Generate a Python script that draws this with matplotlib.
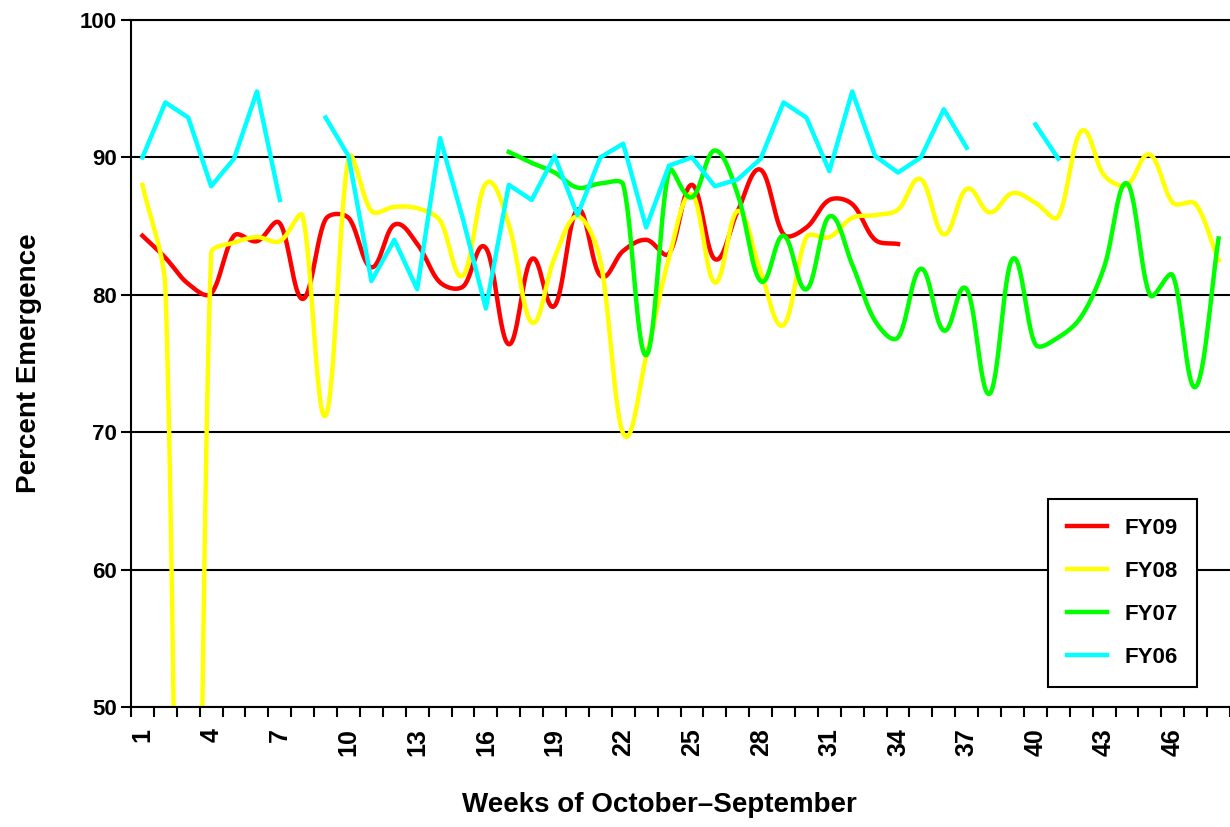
import numpy as np
import matplotlib.pyplot as plt

weeks = np.arange(1, 49)

fy09 = [84.3, 82.7, 80.8, 80.1, 84.3, 83.9, 85.2, 79.7, 85.5, 85.6,
        82.0, 85.1, 83.7, 80.9, 80.6, 83.4, 76.4, 82.6, 79.2, 86.2,
        81.4, 83.2, 84.0, 83.0, 88.0, 82.6, 86.1, 89.1, 84.4, 84.9,
        86.9, 86.6, 84.0, 83.7]

fy08 = [88.0, 80.5, 0.0, 83.0, 83.8, 84.2, 83.9, 85.7, 71.2, 89.9,
        86.1, 86.4, 86.3, 85.4, 81.4, 88.1, 85.1, 78.0, 82.7, 85.7,
        82.5, 69.9, 75.5, 82.7, 87.3, 80.9, 86.1, 81.7, 77.8, 84.2,
        84.2, 85.6, 85.8, 86.2, 88.4, 84.4, 87.7, 86.0, 87.4, 86.7,
        85.7, 91.9, 88.7, 88.0, 90.2, 86.7, 86.6, 82.5]

# FY07 starts at week 17
fy07 = [90.4, 89.6, 88.9, 87.8, 88.1, 88.0, 75.6, 89.0, 87.1, 90.5,
        87.3, 81.0, 84.3, 80.4, 85.7, 82.2, 78.1, 76.9, 81.9, 77.4,
        80.4, 72.8, 82.6, 76.4, 76.9, 78.4, 82.0, 88.1, 80.0, 81.4,
        73.3, 84.1]

# FY06, None = no data that week
fy06 = [90.0, 94.0, 92.9, 87.9, 89.9, 94.8, 86.9, None, 92.9, 90.1,
        81.0, 84.0, 80.4, 91.4, 85.5, 79.0, 88.0, 86.9, 90.1, 85.8,
        90.0, 91.0, 84.9, 89.4, 90.0, 87.9, 88.4, 89.9, 94.0, 92.9,
        89.0, 94.8, 90.1, 88.9, 90.0, 93.5, 90.7, None, None, 92.4,
        89.9, None, None, None, None, None, None, None]

tick_weeks = list(range(1, 47, 3))


def smooth(xs, ys, steps=30, k=0.6):
    # smoothed line like excel: bezier through each point, handle length
    # follows the segment length (y scaled by k to screen proportions)
    p = np.column_stack([np.asarray(xs, float), np.asarray(ys, float) * k])
    n = len(p)

    def tangent(i):
        a = p[max(i - 1, 0)]
        b = p[min(i + 1, n - 1)]
        d = b - a
        return d / np.hypot(*d)

    out = []
    for i in range(n - 1):
        p1, p2 = p[i], p[i + 1]
        L = np.hypot(*(p2 - p1))
        dx = p2[0] - p1[0]
        u1, u2 = tangent(i), tangent(i + 1)
        f1 = min(L / 3, 0.4 * dx / max(abs(u1[0]), 1e-9))
        f2 = min(L / 3, 0.4 * dx / max(abs(u2[0]), 1e-9))
        c1 = p1 + u1 * f1
        c2 = p2 - u2 * f2
        t = np.linspace(0, 1, steps)[:, None]
        seg = ((1 - t) ** 3) * p1 + 3 * ((1 - t) ** 2) * t * c1 \
            + 3 * (1 - t) * t ** 2 * c2 + t ** 3 * p2
        out.append(seg if i == 0 else seg[1:])
    seg = np.vstack(out)
    return seg[:, 0], seg[:, 1] / k


fig = plt.figure(figsize=(12.3, 8.27), dpi=100)
ax = fig.add_axes([131 / 1230, 120 / 827, 1099 / 1230, 687 / 827])

lw = 3.2
x9, y9 = smooth(weeks[:len(fy09)], fy09)
ax.plot(x9, y9, color='#ff0000', lw=lw, label='FY09')
x8, y8 = smooth(weeks, fy08)
ax.plot(x8, y8, color='#ffff00', lw=lw, label='FY08')
x7, y7 = smooth(weeks[16:16 + len(fy07)], fy07)
ax.plot(x7, y7, color='#00ff00', lw=lw, label='FY07')
y6 = np.array([np.nan if v is None else v for v in fy06])
ax.plot(weeks, y6, color='#00ffff', lw=lw, label='FY06')

ax.set_xlim(0.5, 48.5)
ax.set_ylim(50, 100)
ax.set_yticks([50, 60, 70, 80, 90, 100])
ax.yaxis.grid(True, color='black', lw=1.5)
ax.set_axisbelow(True)

ax.set_xticks(tick_weeks)
ax.set_xticks(np.arange(0.5, 49, 1), minor=True)
ax.tick_params(axis='x', which='major', length=0, pad=15, labelrotation=90)
ax.tick_params(axis='x', which='minor', length=7, width=1.5, direction='out')
ax.tick_params(axis='y', length=7, width=1.5, direction='out', pad=3)

for lab in ax.get_xticklabels():
    lab.set_fontweight('bold')
    lab.set_fontsize(18)
    lab.set_family('Liberation Sans')
for lab in ax.get_yticklabels():
    lab.set_fontweight('bold')
    lab.set_fontsize(16)
    lab.set_family('Liberation Sans')

for s in ['left', 'bottom', 'top']:
    ax.spines[s].set_linewidth(1.5)
ax.spines['right'].set_visible(False)

ax.set_xlabel('Weeks of October\u2013September', fontsize=20, fontweight='bold',
              family='Liberation Sans', va='center')
ax.xaxis.set_label_coords(0.481, -0.143)
ax.set_ylabel('Percent Emergence', fontsize=20, fontweight='bold',
              family='Liberation Sans', va='center')
ax.yaxis.set_label_coords(-0.093, 0.5)

leg = ax.legend(loc='lower right', bbox_to_anchor=(0.97, 0.029),
                prop={'family': 'Liberation Sans', 'weight': 'bold', 'size': 16},
                handlelength=1.8, handletextpad=0.8, labelspacing=1.0,
                borderpad=0.85, fancybox=False, framealpha=1, borderaxespad=0)
leg.get_frame().set_edgecolor('black')
leg.get_frame().set_linewidth(1.5)

fig.savefig('out.png', dpi=100, facecolor='white')
